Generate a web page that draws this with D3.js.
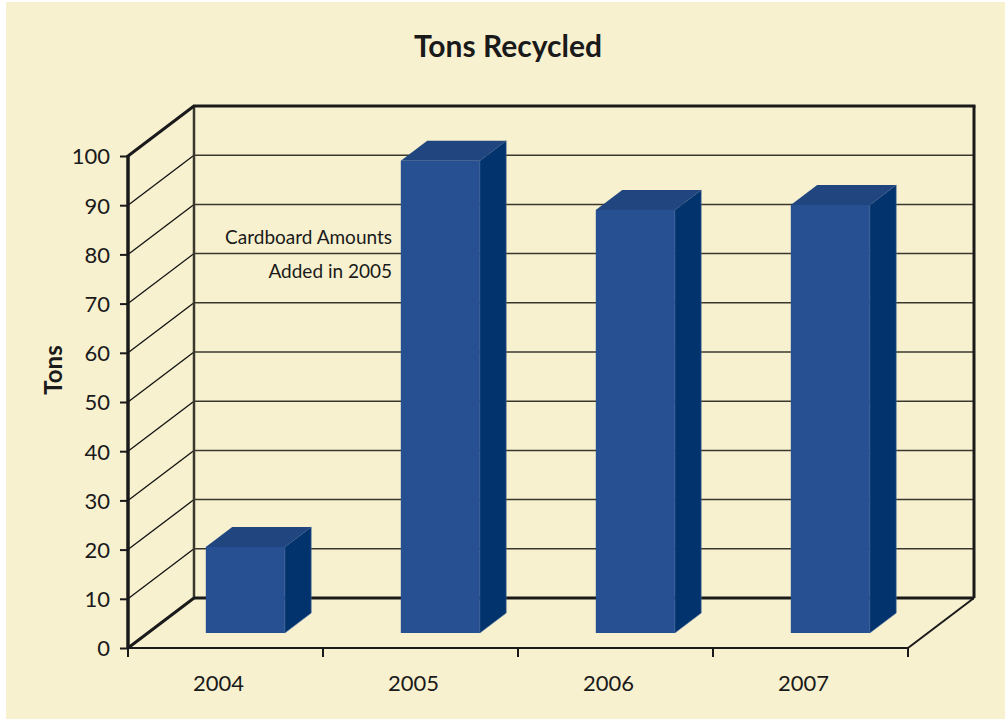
<!DOCTYPE html>
<html>
<head>
<meta charset="utf-8">
<script src="https://cdn.jsdelivr.net/npm/d3@7"></script>
<style>
html,body{margin:0;padding:0;background:#ffffff;}
svg{display:block;}
text{font-family:"Lato","Open Sans",sans-serif;fill:#1a1a1a;}
</style>
</head>
<body>
<svg id="chart" width="1005" height="719"></svg>
<script>
const categories = ["2004", "2005", "2006", "2007"];
const tons = [17.5, 96, 86, 87];
const yTicks = [0, 10, 20, 30, 40, 50, 60, 70, 80, 90, 100];
const titleText = "Tons Recycled";
const yAxisTitle = "Tons";
const noteLines = ["Cardboard Amounts", "Added in 2005"];

const svg = d3.select("#chart");
svg.append("rect").attr("x", 6).attr("y", 2).attr("width", 999).attr("height", 717).attr("fill", "#f8f1d0");

// geometry
const x0 = 128, x1 = 908, yBase = 648, yTop = 156;
const depth = {dx: 66, dy: -50};
const x = d3.scaleBand().domain(categories).range([x0, x1]).paddingInner(0).paddingOuter(0);
const y = d3.scaleLinear().domain([0, 100]).range([yBase, yTop]);
const yMax = 100;

const g = svg.append("g");

// back wall gridlines
g.selectAll(".bgrid").data(yTicks.filter(d => d > 0 && d < yMax)).join("line")
  .attr("x1", x0 + depth.dx).attr("x2", x1 + depth.dx)
  .attr("y1", d => y(d) + depth.dy).attr("y2", d => y(d) + depth.dy)
  .attr("stroke", "#3a382c").attr("stroke-width", 1.5);
// side wall diagonals
g.selectAll(".sgrid").data(yTicks.filter(d => d > 0 && d < yMax)).join("line")
  .attr("x1", x0).attr("x2", x0 + depth.dx)
  .attr("y1", d => y(d)).attr("y2", d => y(d) + depth.dy)
  .attr("stroke", "#111").attr("stroke-width", 1.3);

// back wall left edge
g.append("line").attr("x1", x0 + depth.dx).attr("x2", x0 + depth.dx)
  .attr("y1", y(yMax) + depth.dy).attr("y2", y(0) + depth.dy)
  .attr("stroke", "#3a382c").attr("stroke-width", 2.5);
// back wall bottom
g.append("line").attr("x1", x0 + depth.dx).attr("x2", x1 + depth.dx)
  .attr("y1", y(0) + depth.dy).attr("y2", y(0) + depth.dy)
  .attr("stroke", "#1a1a1a").attr("stroke-width", 3);
// back wall top
g.append("line").attr("x1", x0 + depth.dx - 1).attr("x2", x1 + depth.dx + 1.5)
  .attr("y1", y(yMax) + depth.dy).attr("y2", y(yMax) + depth.dy)
  .attr("stroke", "#1a1a1a").attr("stroke-width", 3);
// back wall right
g.append("line").attr("x1", x1 + depth.dx).attr("x2", x1 + depth.dx)
  .attr("y1", y(yMax) + depth.dy).attr("y2", y(0) + depth.dy)
  .attr("stroke", "#1a1a1a").attr("stroke-width", 3);
// side wall top diagonal
g.append("line").attr("x1", x0).attr("x2", x0 + depth.dx)
  .attr("y1", y(yMax)).attr("y2", y(yMax) + depth.dy)
  .attr("stroke", "#1a1a1a").attr("stroke-width", 3);
// floor left diagonal
g.append("line").attr("x1", x0).attr("x2", x0 + depth.dx)
  .attr("y1", y(0)).attr("y2", y(0) + depth.dy)
  .attr("stroke", "#1a1a1a").attr("stroke-width", 3);
// floor right diagonal
g.append("line").attr("x1", x1).attr("x2", x1 + depth.dx)
  .attr("y1", y(0)).attr("y2", y(0) + depth.dy)
  .attr("stroke", "#1a1a1a").attr("stroke-width", 2);

// bars
const fFront = 0.3, fBack = 0.7, barW = 79;
const bars = g.selectAll(".bar").data(categories.map((c, i) => ({c, v: tons[i]}))).join("g");
bars.each(function(d) {
  const gg = d3.select(this);
  const cx = x(d.c) + x.bandwidth() / 2;
  const fx = cx - barW / 2 + fFront * depth.dx;
  const fy0 = y(0) + fFront * depth.dy;
  const fy1 = y(d.v) + fFront * depth.dy;
  const ddx = (fBack - fFront) * depth.dx, ddy = (fBack - fFront) * depth.dy;
  // side face
  gg.append("path").attr("d", `M${fx + barW},${fy1} L${fx + barW + ddx},${fy1 + ddy} L${fx + barW + ddx},${fy0 + ddy} L${fx + barW},${fy0} Z`)
    .attr("fill", "#02336c").attr("stroke", "#4a6d9e").attr("stroke-width", 0.6);
  // top face
  gg.append("path").attr("d", `M${fx},${fy1} L${fx + ddx},${fy1 + ddy} L${fx + barW + ddx},${fy1 + ddy} L${fx + barW},${fy1} Z`)
    .attr("fill", "#21457f");
  // front face
  gg.append("rect").attr("x", fx).attr("y", fy1).attr("width", barW).attr("height", fy0 - fy1)
    .attr("fill", "#265092");
});

// front axis line (y)
g.append("line").attr("x1", x0).attr("x2", x0).attr("y1", y(yMax) - 1).attr("y2", y(0) + 1)
  .attr("stroke", "#1a1a1a").attr("stroke-width", 3.5);
// y axis ticks and labels via d3 axis
const yAxis = d3.axisLeft(y).tickValues(yTicks).tickSize(8).tickPadding(10);
const yg = svg.append("g").attr("transform", `translate(${x0},0)`).call(yAxis);
yg.select(".domain").remove();
yg.selectAll(".tick line").attr("stroke", "#1a1a1a").attr("stroke-width", 2);
yg.selectAll(".tick text").attr("font-size", 22).attr("fill", "#1a1a1a")
  .style("font-family", "Lato, 'Open Sans', sans-serif").attr("dy", "0.36em");

// x axis
g.append("line").attr("x1", x0).attr("x2", x1).attr("y1", y(0)).attr("y2", y(0))
  .attr("stroke", "#1a1a1a").attr("stroke-width", 2.2);
const xTickPos = categories.map(c => x(c)).concat([x1]);
g.selectAll(".xt").data(xTickPos).join("line")
  .attr("x1", d => d).attr("x2", d => d).attr("y1", y(0)).attr("y2", y(0) + 9)
  .attr("stroke", "#1a1a1a").attr("stroke-width", 2);
svg.selectAll(".xl").data(categories).join("text")
  .attr("x", d => x(d) + x.bandwidth() / 2 - 7).attr("y", 691)
  .attr("text-anchor", "middle").attr("font-size", 22).text(d => d);

// title
svg.append("text").attr("x", 508).attr("y", 57).attr("text-anchor", "middle")
  .attr("font-size", 30).attr("font-weight", "bold").text(titleText);
// y axis title
svg.append("text").attr("transform", "translate(62,370) rotate(-90)").attr("text-anchor", "middle")
  .attr("font-size", 24).attr("font-weight", "bold").text(yAxisTitle);
// annotation
svg.selectAll(".note").data(noteLines).join("text")
  .attr("x", 392).attr("y", (d, i) => 244 + i * 34).attr("text-anchor", "end")
  .attr("font-size", 19).text(d => d);
</script>
</body>
</html>
